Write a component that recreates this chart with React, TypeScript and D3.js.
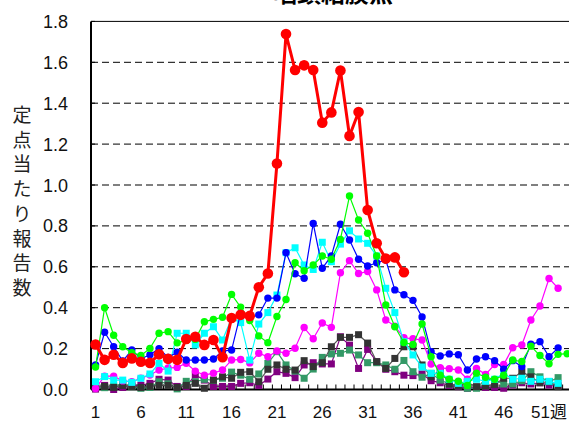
import { useEffect, useRef } from "react"
import * as d3 from "d3"

// weekly values (定点当たり報告数), index 0 = week 1
const red = [
  0.22, 0.145, 0.17, 0.13, 0.152, 0.136, 0.13, 0.172, 0.15, 0.145, 0.247, 0.258, 0.218, 0.242, 0.158,
  0.35, 0.365, 0.36, 0.5, 0.567, 1.105, 1.738, 1.562, 1.585, 1.562, 1.305, 1.355, 1.56, 1.24, 1.357,
  0.878, 0.715, 0.64, 0.646, 0.573,
]
const blue = [
  0.12, 0.28, 0.209, 0.139, 0.194, 0.15, 0.17, 0.2, 0.157, 0.182, 0.144, 0.144, 0.144, 0.149, 0.188,
  0.193, 0.373, 0.35, 0.365, 0.447, 0.447, 0.669, 0.566, 0.544, 0.812, 0.593, 0.653, 0.808, 0.731, 0.637,
  0.604, 0.62, 0.633, 0.487, 0.463, 0.436, 0.355, 0.185, 0.164, 0.174, 0.17, 0.095, 0.149, 0.16, 0.141,
  0.099, 0.141, 0.112, 0.221, 0.234, 0.16, 0.203,
]
const green = [
  0.11, 0.4, 0.265, 0.209, 0.18, 0.166, 0.201, 0.275, 0.283, 0.228, 0.24, 0.245, 0.331, 0.343, 0.353,
  0.465, 0.403, 0.337, 0.262, 0.229, 0.357, 0.44, 0.62, 0.581, 0.609, 0.653, 0.637, 0.734, 0.946, 0.829,
  0.764, 0.653, 0.413, 0.307, 0.23, 0.22, 0.32, 0.16, 0.07, 0.05, 0.04, 0.02, 0.08, 0.06, 0.05,
  0.07, 0.144, 0.137, 0.212, 0.166, 0.126, 0.172, 0.175,
]
const cyan = [
  0.038, 0.063, 0.046, 0.046, 0.035, 0.055, 0.076, 0.128, 0.09, 0.275, 0.275, 0.218, 0.275, 0.307, 0.242,
  0.348, 0.327, 0.144, 0.32, 0.376, 0.462, 0.669, 0.693, 0.609, 0.587, 0.72, 0.625, 0.711, 0.776, 0.736,
  0.715, 0.653, 0.495, 0.376, 0.234, 0.169, 0.11, 0.079, 0.079, 0.05, 0.03, 0.04, 0.05, 0.04, 0.05,
  0.08, 0.05, 0.055, 0.04, 0.05, 0.04, 0.03,
]
const magenta = [
  0.005, 0.065, 0.065, 0.042, 0.038, 0.055, 0.071, 0.095, 0.105, 0.108, 0.128, 0.09, 0.07, 0.08, 0.095,
  0.144, 0.147, 0.13, 0.177, 0.16, 0.188, 0.177, 0.202, 0.303, 0.248, 0.325, 0.304, 0.571, 0.63, 0.567,
  0.577, 0.487, 0.34, 0.31, 0.253, 0.248, 0.242, 0.125, 0.106, 0.102, 0.095, 0.05, 0.103, 0.074, 0.122,
  0.122, 0.204, 0.218, 0.34, 0.408, 0.543, 0.495,
]
const darkgrey = [
  0.01, 0.015, 0.01, 0.02, 0.015, 0.01, 0.015, 0.02, 0.02, 0.01, 0.02, 0.03, 0.006, 0.046, 0.062,
  0.055, 0.084, 0.087, 0.038, 0.099, 0.12, 0.099, 0.095, 0.141, 0.112, 0.131, 0.209, 0.255, 0.255, 0.268,
  0.227, 0.136, 0.103, 0.152, 0.209, 0.209, 0.12, 0.062, 0.095, 0.027, 0.017, 0.033, 0.014, 0.017, 0.025,
  0.055, 0.055, 0.087, 0.062, 0.033, 0.038, 0.014,
]
const teal = [
  0.009, 0.009, 0.017, 0.027, 0.014, 0.006, 0.01, 0.038, 0.028, 0.003, 0.04, 0.038, 0.05, 0.045, 0.055,
  0.085, 0.07, 0.05, 0.076, 0.128, 0.185, 0.12, 0.09, 0.055, 0.1, 0.157, 0.174, 0.177, 0.193, 0.169,
  0.131, 0.131, 0.12, 0.099, 0.142, 0.087, 0.06, 0.079, 0.046, 0.027, 0.022, 0.006, 0.006, 0.051, 0.046,
  0.027, 0.027, 0.043, 0.087, 0.062, 0.038, 0.058,
]
const purple = [
  0.002, 0.02, 0.0, 0.01, 0.02, 0.02, 0.03, 0.05, 0.046, 0.015, 0.015, 0.071, 0.046, 0.015, 0.015,
  0.015, 0.03, 0.033, 0.02, 0.051, 0.087, 0.079, 0.058, 0.12, 0.131, 0.125, 0.125, 0.258, 0.217, 0.103,
  0.196, 0.136, 0.099, 0.087, 0.07, 0.068, 0.076, 0.043, 0.033, 0.02, 0.014, 0.006, 0.01, 0.01, 0.01,
  0.006, 0.022, 0.033, 0.027, 0.033, 0.022, 0.022,
]

const yTicks = [0, 0.2, 0.4, 0.6, 0.8, 1.0, 1.2, 1.4, 1.6, 1.8]
const xTickWeeks = [1, 6, 11, 16, 21, 26, 31, 36, 41, 46, 51]
const xTickLabels = ["1", "6", "11", "16", "21", "26", "31", "36", "41", "46", "51週"]
const title = "咽頭結膜熱"
const yTitle = "定点当たり報告数"

type Series = { values: number[]; color: string; lineColor: string; shape: "circle" | "square"; big?: boolean }

const series: Series[] = [
  { values: purple, color: "#800080", lineColor: "#800080", shape: "square" },
  { values: teal, color: "#339966", lineColor: "#339966", shape: "square" },
  { values: darkgrey, color: "#333333", lineColor: "#555555", shape: "square" },
  { values: magenta, color: "#ff00ff", lineColor: "#ff00ff", shape: "circle" },
  { values: cyan, color: "#00ffff", lineColor: "#00ffff", shape: "square" },
  { values: blue, color: "#0000ff", lineColor: "#0000ff", shape: "circle" },
  { values: green, color: "#00ff00", lineColor: "#00ff00", shape: "circle" },
  { values: red, color: "#ff0000", lineColor: "#ff0000", shape: "circle", big: true },
]

export default function App() {
  const svgRef = useRef<SVGSVGElement>(null)

  useEffect(() => {
    if (!svgRef.current) return
    const svg = d3.select(svgRef.current)
    svg.selectAll("*").remove()

    const left = 91
    const step = 9.07
    const x = d3.scaleLinear().domain([0.5, 53.5]).range([left, left + 53 * step])
    const y = d3.scaleLinear().domain([0, 1.8]).range([389.5, 21.4])
    const right = 575

    // grid
    svg
      .append("g")
      .selectAll("line")
      .data(yTicks.filter((t) => t > 0 && t < 1.8))
      .join("line")
      .attr("x1", left)
      .attr("x2", right)
      .attr("y1", (d) => y(d))
      .attr("y2", (d) => y(d))
      .attr("stroke", "#000")
      .attr("stroke-width", 1)
      .attr("stroke-dasharray", "7,4")

    // top border
    svg.append("line").attr("x1", left).attr("x2", right).attr("y1", y(1.8)).attr("y2", y(1.8)).attr("stroke", "#000")

    // y axis
    svg.append("line").attr("x1", left).attr("x2", left).attr("y1", y(1.8)).attr("y2", y(0)).attr("stroke", "#000").attr("stroke-width", 2)
    svg
      .append("g")
      .selectAll("line")
      .data(yTicks)
      .join("line")
      .attr("x1", left)
      .attr("x2", left + 4)
      .attr("y1", (d) => y(d))
      .attr("y2", (d) => y(d))
      .attr("stroke", "#000")
    svg
      .append("g")
      .selectAll("text")
      .data(yTicks)
      .join("text")
      .attr("x", 68)
      .attr("y", (d) => y(d) + 6.5)
      .attr("text-anchor", "end")
      .attr("font-family", "'Liberation Sans', Arial, sans-serif")
      .attr("font-size", 18)
      .attr("fill", "#111")
      .text((d) => d.toFixed(1))

    // x axis
    const weeks = d3.range(1, 54)
    svg
      .append("g")
      .selectAll("line")
      .data(weeks)
      .join("line")
      .attr("x1", (d) => x(d + 0.5))
      .attr("x2", (d) => x(d + 0.5))
      .attr("y1", y(0))
      .attr("y2", y(0) - 5)
      .attr("stroke", "#000")
    svg.append("line").attr("x1", left).attr("x2", right).attr("y1", y(0)).attr("y2", y(0)).attr("stroke", "#000").attr("stroke-width", 2)
    svg
      .append("g")
      .selectAll("text")
      .data(xTickWeeks)
      .join("text")
      .attr("x", (d) => x(d))
      .attr("y", 418)
      .attr("text-anchor", "middle")
      .attr("font-family", "'Liberation Sans', 'Noto Sans CJK JP', sans-serif")
      .attr("font-size", 17)
      .attr("fill", "#111")
      .text((_, i) => xTickLabels[i])

    // series
    series.forEach((s) => {
      const pts = s.values.map((v, i) => [i + 1, v] as [number, number])
      const line = d3
        .line<[number, number]>()
        .x((d) => x(d[0]))
        .y((d) => y(d[1]))
      svg
        .append("path")
        .datum(pts)
        .attr("fill", "none")
        .attr("stroke", s.lineColor)
        .attr("stroke-width", s.big ? 3 : 1.2)
        .attr("d", line)
      const g = svg.append("g")
      if (s.shape === "circle") {
        g.selectAll("circle")
          .data(pts)
          .join("circle")
          .attr("cx", (d) => x(d[0]))
          .attr("cy", (d) => y(d[1]))
          .attr("r", s.big ? 5.3 : 3.7)
          .attr("fill", s.color)
      } else {
        g.selectAll("rect")
          .data(pts)
          .join("rect")
          .attr("x", (d) => x(d[0]) - 3.5)
          .attr("y", (d) => y(d[1]) - 3.5)
          .attr("width", 7)
          .attr("height", 7)
          .attr("fill", s.color)
      }
    })

    // titles
    svg
      .append("text")
      .attr("x", 333)
      .attr("y", 2)
      .attr("text-anchor", "middle")
      .attr("font-family", "'Noto Sans CJK JP', sans-serif")
      .attr("font-weight", "bold")
      .attr("font-size", 24)
      .attr("fill", "#000")
      .text(title)

    svg
      .append("g")
      .selectAll("text")
      .data(Array.from(yTitle))
      .join("text")
      .attr("x", 22)
      .attr("y", (_, i) => 115 + i * 24.7 + 7)
      .attr("text-anchor", "middle")
      .attr("font-family", "'Noto Sans CJK JP', sans-serif")
      .attr("font-size", 19)
      .attr("fill", "#222")
      .text((d) => d)
  }, [])

  return (
    <svg
      ref={svgRef}
      width={569}
      height={422}
      style={{ position: "absolute", left: 0, top: 0, background: "#fff", display: "block" }}
    />
  )
}
